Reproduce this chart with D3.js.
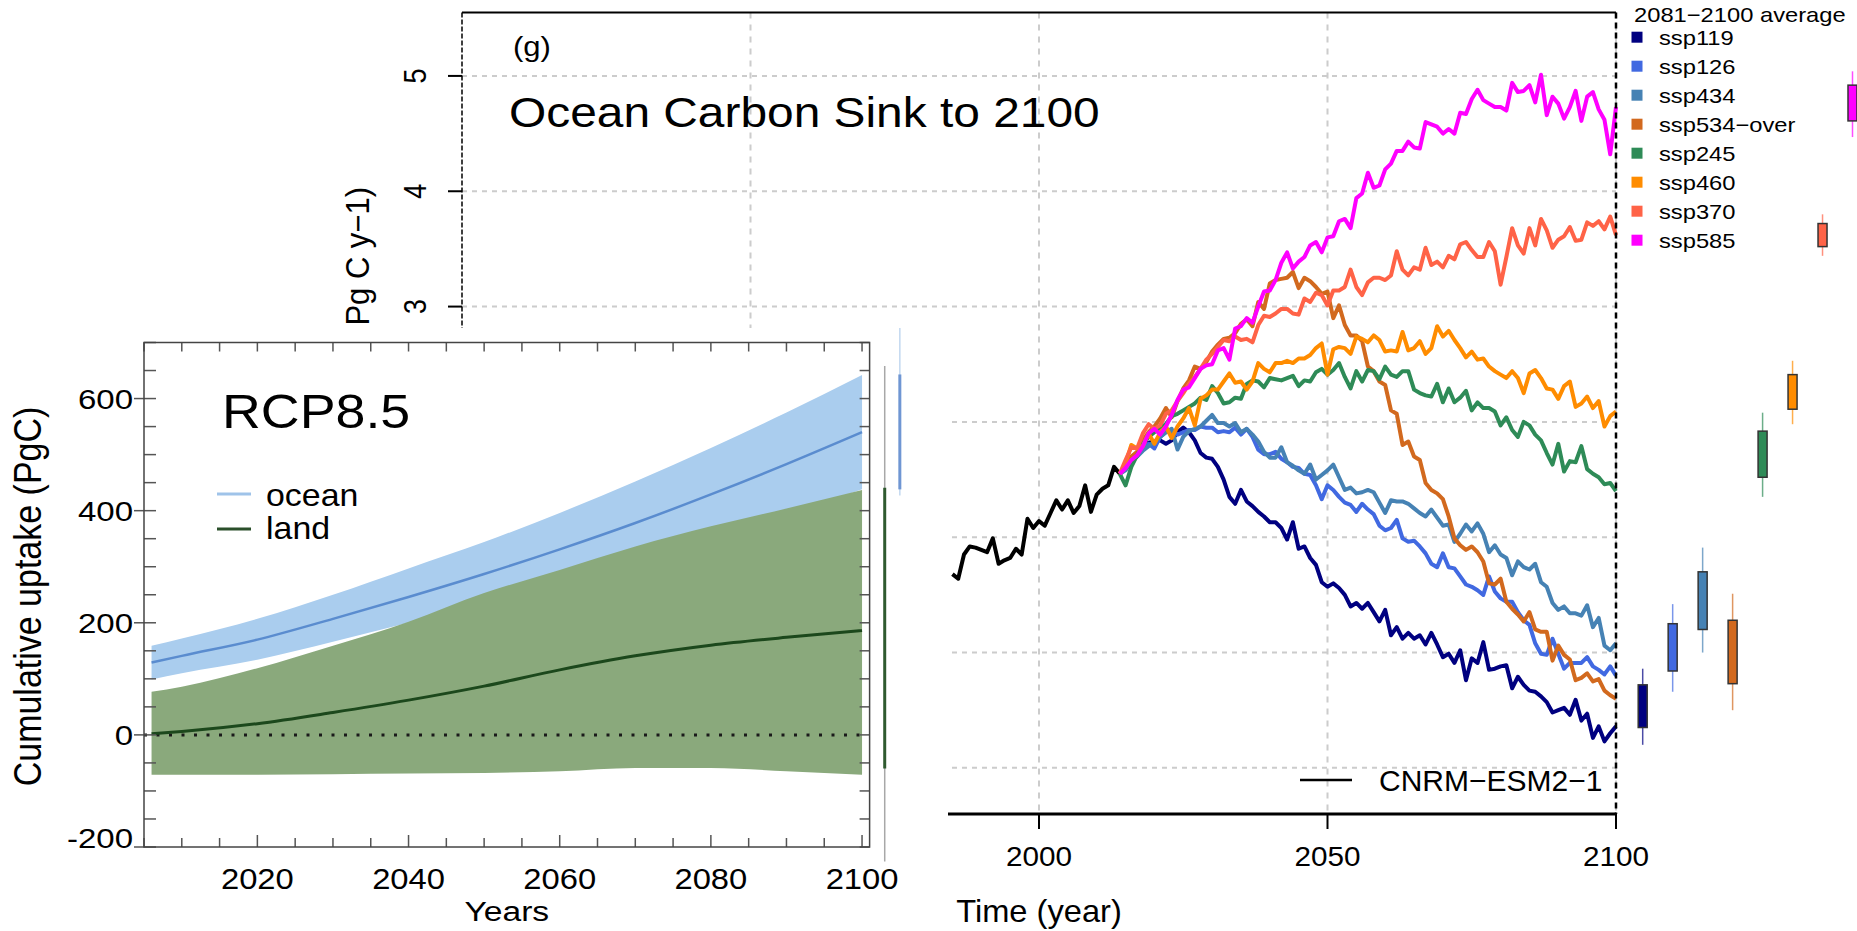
<!DOCTYPE html>
<html>
<head>
<meta charset="utf-8">
<script src="https://cdn.jsdelivr.net/npm/d3@7"></script>
<style>
  body { margin: 0; background: #fff; }
  svg { display: block; font-family: "Liberation Sans", Arial, Helvetica, sans-serif; }
</style>
</head>
<body>
<svg width="1857" height="931"></svg>
<script>
// ---------- data: ocean carbon sink panel (g) ----------
var histStart = 1985, scenStart = 2015;
var hist = [0.68, 0.64, 0.85, 0.92, 0.91, 0.89, 0.87, 0.99, 0.77, 0.80, 0.82, 0.90, 0.85, 1.16, 1.08,
            1.14, 1.10, 1.21, 1.32, 1.24, 1.32, 1.21, 1.27, 1.45, 1.22, 1.37, 1.42, 1.45, 1.61, 1.55];

var scenarios = ["ssp119", "ssp126", "ssp434", "ssp534-over", "ssp245", "ssp460", "ssp370", "ssp585"];
var scenLabels = ["ssp119", "ssp126", "ssp434", "ssp534\u2212over", "ssp245", "ssp460", "ssp370", "ssp585"];
var scenColors = ["#000080", "#4169e1", "#4682b4", "#d2691e", "#2e8b57", "#ff8c00", "#ff6347", "#ff00ff"];

var ssp119 = [1.60,1.66,1.70,1.78,1.82,1.83,1.84,1.81,1.84,1.91, 1.95,1.91,1.84,1.73,1.69,1.68,1.61,1.50,1.35,1.29,
  1.41,1.31,1.27,1.22,1.18,1.13,1.13,1.08,0.98,1.13, 0.90,0.92,0.82,0.76,0.61,0.57,0.60,0.56,0.50,0.40,
  0.43,0.38,0.43,0.35,0.27,0.37,0.15,0.22,0.12,0.17, 0.12,0.15,0.07,0.17,0.07,-0.04,-0.01,-0.09,0.02,-0.24,
  -0.05,-0.09,0.09,-0.15,-0.14,-0.12,-0.11,-0.31,-0.21,-0.28, -0.33,-0.34,-0.38,-0.43,-0.52,-0.50,-0.48,-0.54,-0.41,-0.59,
  -0.53,-0.74,-0.64,-0.77,-0.70,-0.64];
var ssp126 = [1.60,1.64,1.71,1.79,1.81,1.77,1.87,1.91,1.92,1.89, 1.91,1.93,1.93,1.96,1.95,1.95,1.91,1.92,1.91,1.95,
  1.89,1.94,1.87,1.76,1.72,1.72,1.74,1.68,1.65,1.61, 1.60,1.55,1.54,1.45,1.33,1.45,1.41,1.35,1.30,1.28,
  1.22,1.29,1.24,1.20,1.10,1.06,1.08,1.15,0.99,0.96, 0.97,0.92,0.86,0.77,0.74,0.86,0.74,0.73,0.66,0.59,
  0.57,0.54,0.50,0.66,0.53,0.47,0.44,0.44,0.35,0.28, 0.24,0.08,-0.01,-0.02,0.12,-0.01,-0.14,-0.09,-0.09,-0.09,
  -0.04,-0.12,-0.15,-0.19,-0.12,-0.20];
var ssp434 = [1.58,1.66,1.70,1.75,1.79,1.83,1.87,1.91,1.94,1.76, 1.87,1.92,1.94,1.96,2.01,2.06,1.99,1.99,1.96,1.99,
  1.91,1.94,1.89,1.83,1.74,1.69,1.69,1.78,1.65,1.62, 1.58,1.55,1.63,1.50,1.54,1.58,1.63,1.52,1.41,1.43,
  1.38,1.39,1.41,1.39,1.30,1.21,1.32,1.31,1.31,1.29, 1.25,1.21,1.18,1.24,1.17,1.10,1.11,0.96,1.03,1.11,
  1.05,1.12,1.03,0.87,0.93,0.85,0.82,0.67,0.79,0.74, 0.72,0.77,0.61,0.57,0.43,0.37,0.40,0.34,0.34,0.32,
  0.41,0.22,0.30,0.06,0.02,0.08];
var ssp534 = [1.61,1.70,1.74,1.84,1.91,1.96,2.03,2.12,2.04,2.18, 2.29,2.36,2.48,2.46,2.52,2.61,2.67,2.72,2.73,2.77,
  2.85,2.89,2.83,3.04,2.98,3.20,3.23,3.24,3.25,3.30, 3.16,3.25,3.22,3.17,3.11,3.13,2.90,3.01,2.84,2.75,
  2.75,2.70,2.48,2.44,2.35,2.32,2.10,2.07,1.80,1.83, 1.70,1.67,1.47,1.41,1.38,1.33,1.18,0.99,0.93,0.89,
  0.92,0.87,0.79,0.60,0.59,0.64,0.44,0.38,0.33,0.27, 0.35,0.20,0.18,0.18,-0.07,0.06,-0.02,-0.06,-0.24,-0.22,
  -0.18,-0.25,-0.23,-0.33,-0.37,-0.40];
var ssp245 = [1.45,1.61,1.71,1.81,1.87,1.91,1.95,1.98,2.05,2.07, 2.10,2.13,2.16,2.21,2.19,2.31,2.25,2.16,2.17,2.21,
  2.20,2.33,2.36,2.35,2.30,2.38,2.37,2.36,2.38,2.40, 2.31,2.36,2.35,2.43,2.46,2.41,2.45,2.51,2.39,2.29,
  2.44,2.35,2.45,2.44,2.37,2.48,2.41,2.39,2.44,2.44, 2.28,2.25,2.23,2.22,2.33,2.17,2.29,2.17,2.21,2.27,
  2.10,2.17,2.12,2.12,2.09,1.97,2.04,1.93,1.87,2.00, 1.97,1.89,1.84,1.73,1.63,1.81,1.57,1.66,1.65,1.79,
  1.59,1.55,1.52,1.46,1.47,1.40];
var ssp460 = [1.64,1.80,1.77,1.79,1.90,1.81,1.91,1.96,1.86,1.96, 2.03,2.12,1.97,2.20,2.23,2.28,2.28,2.35,2.42,2.34,
  2.35,2.28,2.35,2.51,2.46,2.43,2.51,2.51,2.53,2.51, 2.55,2.55,2.58,2.64,2.68,2.41,2.63,2.65,2.64,2.59,
  2.74,2.72,2.69,2.75,2.71,2.61,2.62,2.61,2.78,2.62, 2.64,2.70,2.59,2.64,2.83,2.74,2.79,2.71,2.64,2.56,
  2.61,2.54,2.55,2.48,2.44,2.41,2.38,2.44,2.38,2.25, 2.42,2.45,2.38,2.29,2.28,2.20,2.31,2.35,2.13,2.16,
  2.22,2.12,2.18,1.96,2.05,2.09];
var ssp370 = [1.67,1.78,1.77,1.90,1.98,1.94,1.97,2.07,2.10,2.18, 2.25,2.33,2.39,2.46,2.54,2.59,2.65,2.71,2.70,2.74,
  2.71,2.72,2.69,2.84,2.92,2.91,2.94,2.98,2.98,2.94, 2.93,3.07,3.04,3.12,3.10,3.01,3.14,3.14,3.17,3.32,
  3.17,3.10,3.21,3.25,3.25,3.23,3.27,3.48,3.32,3.27, 3.34,3.32,3.51,3.36,3.39,3.34,3.44,3.41,3.54,3.56,
  3.49,3.43,3.43,3.56,3.48,3.19,3.43,3.68,3.53,3.46, 3.68,3.53,3.76,3.66,3.51,3.58,3.61,3.69,3.57,3.58,
  3.73,3.70,3.74,3.67,3.78,3.62];
var ssp585 = [1.60,1.67,1.71,1.79,1.90,1.94,1.89,1.96,2.06,2.19, 2.28,2.30,2.38,2.46,2.49,2.50,2.62,2.64,2.54,2.81,
  2.83,2.90,2.86,3.00,3.13,3.14,3.23,3.38,3.47,3.33, 3.39,3.43,3.53,3.56,3.47,3.60,3.61,3.74,3.76,3.68,
  3.94,3.98,4.16,4.03,4.05,4.19,4.24,4.35,4.35,4.43, 4.38,4.37,4.60,4.58,4.56,4.50,4.54,4.50,4.68,4.67,
  4.80,4.88,4.79,4.76,4.73,4.73,4.70,4.94,4.86,4.87, 4.92,4.77,5.01,4.66,4.82,4.76,4.63,4.73,4.87,4.61,
  4.82,4.86,4.71,4.62,4.32,4.73];
var scenValues = [ssp119, ssp126, ssp434, ssp534, ssp245, ssp460, ssp370, ssp585];

// 2081-2100 average boxes: [box low, box high, whisker low, whisker high]
var boxStats = [[-0.65,-0.28,-0.80,-0.14], [-0.16,0.25,-0.34,0.42], [0.20,0.70,0.00,0.91], [-0.27,0.28,-0.50,0.51],
                [1.52,1.92,1.35,2.08], [2.11,2.41,1.98,2.53], [3.52,3.72,3.44,3.80], [4.61,4.92,4.47,5.04]];

var mainYTicks = [3, 4, 5];
var mainGridY = [-1, 0, 1, 2, 3, 4, 5];
var mainGridX = [1950, 2000, 2050, 2100];
var mainXTicks = [2000, 2050, 2100];

// ---------- data: RCP8.5 cumulative uptake inset ----------
var inYears = [2006, 2010, 2020, 2030, 2040, 2050, 2060, 2070, 2080, 2090, 2100];
var oceanMean = [129, 141, 170, 207, 246, 287, 331, 378, 429, 483, 540];
var oceanHigh = [159, 172, 207, 250, 297, 344, 396, 452, 512, 575, 642];
var oceanLow  = [99, 110, 134, 166, 200, 232, 266, 304, 347, 391, 438];
var landMean  = [2, 6, 20, 40, 62, 87, 116, 141, 160, 174, 186];
var landHigh  = [77, 86, 119, 159, 202, 253, 294, 336, 372, 404, 437];
var landLow   = [-71, -71, -71, -70, -69, -68, -65, -59, -59, -65, -71];
var oceanBar = [438, 643], oceanWhisk = [427, 726];
var landBar = [-60, 441], landWhisk = [-226, 658];
var inYTicks = [-200, 0, 200, 400, 600];
var inXTicks = [2020, 2040, 2060, 2080, 2100];

var svg = d3.select("svg");

function addText(parent, str, px, py, size, sx, anchor, rot) {
  return parent.append("text")
    .attr("transform", "translate(" + px + "," + py + ") scale(" + sx + ",1)" + (rot ? " rotate(" + rot + ")" : ""))
    .attr("font-size", size)
    .attr("text-anchor", anchor || "start")
    .attr("fill", "#000")
    .text(str);
}

// ================= main panel =================
var x = d3.scaleLinear().domain([1900, 2100]).range([462, 1616]);
var y = d3.scaleLinear().domain([-1.4, 5.55]).range([814, 12.5]);
var main = svg.append("g");

main.append("g").selectAll("line").data(mainGridY).enter().append("line")
  .attr("x1", x(1900)).attr("x2", x(2100))
  .attr("y1", function(d) { return y(d); }).attr("y2", function(d) { return y(d); })
  .attr("stroke", "#cccccc").attr("stroke-width", 2).attr("stroke-dasharray", "5,5");
main.append("g").selectAll("line").data(mainGridX).enter().append("line")
  .attr("x1", function(d) { return x(d); }).attr("x2", function(d) { return x(d); })
  .attr("y1", y(5.55)).attr("y2", y(-1.4))
  .attr("stroke", "#cccccc").attr("stroke-width", 2).attr("stroke-dasharray", "6,6");

// frame
main.append("line").attr("x1", x(1900)).attr("x2", x(2100)).attr("y1", y(5.55)).attr("y2", y(5.55))
  .attr("stroke", "#000").attr("stroke-width", 2);
main.append("line").attr("x1", x(1900)).attr("x2", x(1900)).attr("y1", y(5.55)).attr("y2", y(-1.4))
  .attr("stroke", "#000").attr("stroke-width", 1.5).attr("stroke-dasharray", "5,2");

var line = d3.line()
  .x(function(d) { return x(d.year); })
  .y(function(d) { return y(d.value); });

var histSeries = hist.map(function(v, i) { return {year: histStart + i, value: v}; });
main.append("path").datum(histSeries).attr("d", line)
  .attr("fill", "none").attr("stroke", "#000").attr("stroke-width", 4).attr("stroke-linejoin", "round");

scenValues.forEach(function(vals, k) {
  var series = [histSeries[histSeries.length - 1]].concat(vals.map(function(v, i) {
    return {year: scenStart + i, value: v};
  }));
  main.append("path").datum(series).attr("d", line)
    .attr("fill", "none").attr("stroke", scenColors[k]).attr("stroke-width", 4)
    .attr("stroke-linejoin", "round");
});

// dashed end line at 2100
main.append("line").attr("x1", x(2100)).attr("x2", x(2100)).attr("y1", y(5.55)).attr("y2", y(-1.4))
  .attr("stroke", "#000").attr("stroke-width", 2.5).attr("stroke-dasharray", "6,4");

// x axis
main.append("line").attr("x1", x(1900)).attr("x2", x(2100)).attr("y1", y(-1.4)).attr("y2", y(-1.4))
  .attr("stroke", "#000").attr("stroke-width", 3);
main.append("g").selectAll("line").data(mainXTicks).enter().append("line")
  .attr("x1", function(d) { return x(d); }).attr("x2", function(d) { return x(d); })
  .attr("y1", y(-1.4)).attr("y2", y(-1.4) + 15)
  .attr("stroke", "#000").attr("stroke-width", 2);
mainXTicks.forEach(function(t) { addText(main, String(t), x(t), 866, 27, 1.1, "middle"); });
addText(main, "Time (year)", (x(1900) + x(2100)) / 2, 922, 32, 1.02, "middle");

// y axis
main.append("g").selectAll("line").data(mainGridY).enter().append("line")
  .attr("x1", x(1900) - 14).attr("x2", x(1900))
  .attr("y1", function(d) { return y(d); }).attr("y2", function(d) { return y(d); })
  .attr("stroke", "#000").attr("stroke-width", 2);
mainYTicks.forEach(function(t) { addText(main, String(t), 426, y(t), 27, 1.15, "middle", -90); });
addText(main, "Pg C y\u22121)", 369, 187, 31, 1.05, "end", -90);

// titles
addText(main, "(g)", 513, 56, 27, 1.15);
addText(main, "Ocean Carbon Sink to 2100", 509, 127, 42, 1.14);

// model legend
main.append("line").attr("x1", 1300).attr("x2", 1352).attr("y1", 780).attr("y2", 780)
  .attr("stroke", "#000").attr("stroke-width", 2.5);
addText(main, "CNRM\u2212ESM2\u22121", 1379, 791, 30, 1.0);

// scenario legend
addText(main, "2081\u22122100 average", 1634, 21.5, 21, 1.13);
var legRow = d3.scalePoint().domain(scenarios).range([37.2, 240.2]);
scenarios.forEach(function(s, k) {
  main.append("rect").attr("x", 1631.5).attr("y", legRow(s) - 5.5).attr("width", 11).attr("height", 11)
    .attr("fill", scenColors[k]);
  addText(main, scenLabels[k], 1659, legRow(s) + 8, 21, 1.13);
});

// 2081-2100 boxes
var bx = d3.scalePoint().domain(scenarios).range([1642.7, 1852.5]);
boxStats.forEach(function(b, k) {
  var cx = bx(scenarios[k]);
  main.append("line").attr("x1", cx).attr("x2", cx).attr("y1", y(b[2])).attr("y2", y(b[3]))
    .attr("stroke", scenColors[k]).attr("stroke-opacity", 0.7).attr("stroke-width", 1.5);
  main.append("rect").attr("x", cx - 4.5).attr("width", 9)
    .attr("y", y(b[1])).attr("height", y(b[0]) - y(b[1]))
    .attr("fill", scenColors[k]).attr("stroke", "#333").attr("stroke-width", 1.5);
});

// ================= RCP8.5 inset =================
var inset = svg.append("g");
inset.append("rect").attr("x", 0).attr("y", 328).attr("width", 948).attr("height", 603).attr("fill", "#fff");

var xi = d3.scaleLinear().domain([2005, 2101]).range([144, 869.6]);
var yi = d3.scaleLinear().domain([-200, 700]).range([847, 342.5]);

function band(lo, hi) {
  return d3.area().curve(d3.curveMonotoneX)
    .x(function(d, i) { return xi(inYears[i]); })
    .y0(function(d, i) { return yi(lo[i]); })
    .y1(function(d, i) { return yi(hi[i]); })(inYears);
}
function meanLine(vals) {
  return d3.line().curve(d3.curveMonotoneX)
    .x(function(d, i) { return xi(inYears[i]); })
    .y(function(d, i) { return yi(vals[i]); })(inYears);
}

inset.append("path").attr("d", band(oceanLow, oceanHigh)).attr("fill", "#aacdee");
inset.append("path").attr("d", band(landLow, landHigh)).attr("fill", "#8aa97c");
inset.append("line").attr("x1", xi(2005)).attr("x2", xi(2101)).attr("y1", yi(0)).attr("y2", yi(0))
  .attr("stroke", "#1a1a1a").attr("stroke-width", 3).attr("stroke-dasharray", "3,9.5");
inset.append("path").attr("d", meanLine(oceanMean)).attr("fill", "none")
  .attr("stroke", "#5a8ccf").attr("stroke-width", 2.5);
inset.append("path").attr("d", meanLine(landMean)).attr("fill", "none")
  .attr("stroke", "#1c481c").attr("stroke-width", 3);

// range bars at 2100
inset.append("line").attr("x1", xi(2103)).attr("x2", xi(2103)).attr("y1", yi(landWhisk[0])).attr("y2", yi(landWhisk[1]))
  .attr("stroke", "#a8a8a8").attr("stroke-width", 1.5);
inset.append("line").attr("x1", xi(2103)).attr("x2", xi(2103)).attr("y1", yi(landBar[0])).attr("y2", yi(landBar[1]))
  .attr("stroke", "#2f5a2f").attr("stroke-width", 3);
inset.append("line").attr("x1", xi(2105)).attr("x2", xi(2105)).attr("y1", yi(oceanWhisk[0])).attr("y2", yi(oceanWhisk[1]))
  .attr("stroke", "#c2d8f0").attr("stroke-width", 1.5);
inset.append("line").attr("x1", xi(2105)).attr("x2", xi(2105)).attr("y1", yi(oceanBar[0])).attr("y2", yi(oceanBar[1]))
  .attr("stroke", "#6f96d3").attr("stroke-width", 3);

// ticks (inward) and frame
var inMinorY = d3.range(-200, 701, 50);
var inMinorX = d3.range(2005, 2101, 5);
var tk = inset.append("g").attr("stroke", "#555").attr("stroke-width", 1.5);
tk.selectAll(".ly").data(inMinorY).enter().append("line")
  .attr("x1", xi(2005)).attr("x2", xi(2005) + 12)
  .attr("y1", function(d) { return yi(d); }).attr("y2", function(d) { return yi(d); });
tk.selectAll(".ry").data(inMinorY).enter().append("line")
  .attr("x1", xi(2101) - 10).attr("x2", xi(2101))
  .attr("y1", function(d) { return yi(d); }).attr("y2", function(d) { return yi(d); });
tk.selectAll(".oy").data(inYTicks).enter().append("line")
  .attr("x1", xi(2005) - 10).attr("x2", xi(2005))
  .attr("y1", function(d) { return yi(d); }).attr("y2", function(d) { return yi(d); });
tk.selectAll(".bx").data(inMinorX).enter().append("line")
  .attr("x1", function(d) { return xi(d); }).attr("x2", function(d) { return xi(d); })
  .attr("y1", yi(-200)).attr("y2", function(d) { return yi(-200) - (d % 20 === 0 ? 12 : 9); });
tk.selectAll(".tx").data(inMinorX).enter().append("line")
  .attr("x1", function(d) { return xi(d); }).attr("x2", function(d) { return xi(d); })
  .attr("y1", yi(700)).attr("y2", yi(700) + 9);
inset.append("rect").attr("x", xi(2005)).attr("y", yi(700))
  .attr("width", xi(2101) - xi(2005)).attr("height", yi(-200) - yi(700))
  .attr("fill", "none").attr("stroke", "#444").attr("stroke-width", 1.5);

inYTicks.forEach(function(t) {
  addText(inset, String(t), 133, Math.min(yi(t), yi(-200) - 9) + 10, 28, 1.18, "end");
});
inXTicks.forEach(function(t) { addText(inset, String(t), xi(t), 889, 29.5, 1.11, "middle"); });
addText(inset, "Years", (xi(2005) + xi(2101)) / 2, 921, 28, 1.2, "middle");
addText(inset, "Cumulative uptake (PgC)", 41, 596.5, 34, 1.14, "middle", -90);

addText(inset, "RCP8.5", 222, 428, 48, 1.12);
inset.append("line").attr("x1", 217).attr("x2", 251).attr("y1", 494).attr("y2", 494)
  .attr("stroke", "#9fc3e9").attr("stroke-width", 3);
inset.append("line").attr("x1", 217).attr("x2", 251).attr("y1", 529).attr("y2", 529)
  .attr("stroke", "#2a4f2a").attr("stroke-width", 3);
addText(inset, "ocean", 266, 506, 32, 1.06);
addText(inset, "land", 266, 539, 32, 1.06);
</script>
</body>
</html>
